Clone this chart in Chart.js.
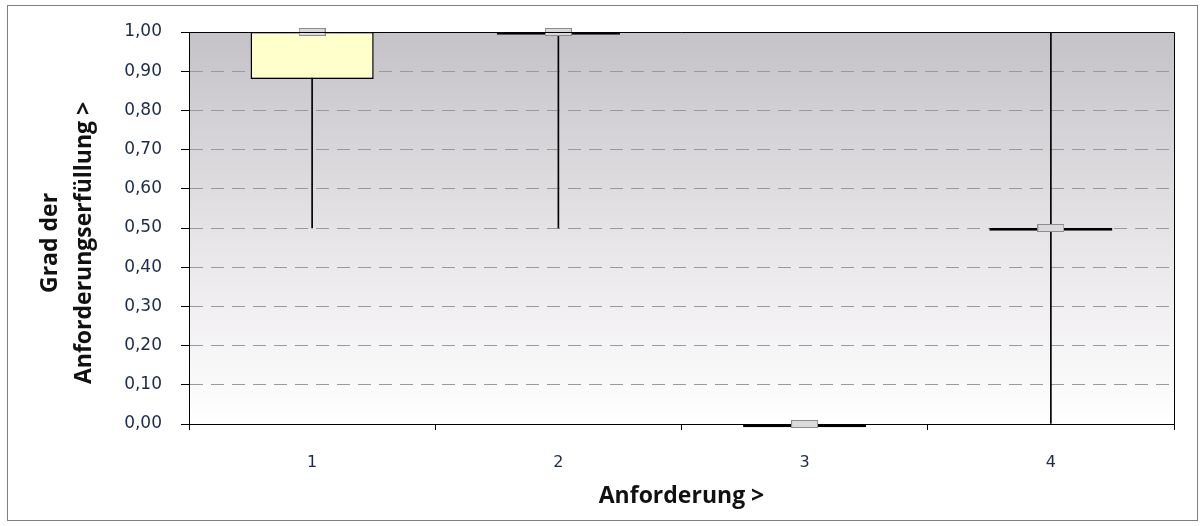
<!DOCTYPE html>
<html><head><meta charset="utf-8">
<script src="https://cdn.jsdelivr.net/npm/chart.js@4"></script>
<style>html,body{margin:0;padding:0;background:#fff}#wrap{width:1204px;height:526px}</style>
</head><body><div id="wrap"><canvas id="c" width="1204" height="526"></canvas></div>
<script>
// ---- data ----
const categories = ['1', '2', '3', '4'];
const minValues    = [0.50, 0.50, 0.00, 0.00];
const q1Values     = [0.88, 0.993, -0.008, 0.493];
const medianValues = [1.00, 1.00, 0.00, 0.50];
const q3Values     = [1.00, 1.00, 0.00, 0.50];
const maxValues    = [1.00, 1.00, 0.00, 1.00];
const yTickValues  = [0, 0.1, 0.2, 0.3, 0.4, 0.5, 0.6, 0.7, 0.8, 0.9, 1.0];
const xTitle = 'Anforderung >';
const yTitle = ['Grad der', 'Anforderungserfüllung >'];

// ---- styles ----
const PLOT_LEFT = 189, PLOT_TOP = 32, PLOT_RIGHT = 1174, PLOT_BOTTOM = 424, W = 1204, H = 526;
const TITLE_SHIFT = '     '; // trailing spaces to move the rotated title slightly downward

// median marker as custom point style
const marker = document.createElement('canvas');
marker.width = 27; marker.height = 8;
(function(){
  const m = marker.getContext('2d');
  m.fillStyle = '#dadada';
  m.fillRect(0, 0, 27, 8);
  m.strokeStyle = '#8c8c8c';
  m.lineWidth = 1;
  m.strokeRect(0.5, 0.5, 26, 7);
})();

const whiskerData = categories.map((c, i) => [minValues[i], maxValues[i]]);
const boxData = categories.map((c, i) => [q1Values[i], q3Values[i]]);

const decor = {
  id: 'decor',
  beforeDraw(chart) {
    const {ctx, chartArea: a} = chart;
    ctx.save();
    ctx.fillStyle = '#fff';
    ctx.fillRect(0, 0, W, H);
    ctx.strokeStyle = '#7f7f7f';
    ctx.lineWidth = 1;
    ctx.strokeRect(7.5, 5.5, 1190, 515);
    const g = ctx.createLinearGradient(0, a.top, 0, a.bottom);
    g.addColorStop(0, '#c5c2c7');
    g.addColorStop(0.55, '#e9e6ea');
    g.addColorStop(1, '#ffffff');
    ctx.fillStyle = g;
    ctx.fillRect(a.left, a.top, a.right - a.left, a.bottom - a.top);
    ctx.restore();
  },
  afterDraw(chart) {
    const {ctx, chartArea: a} = chart;
    ctx.save();
    ctx.strokeStyle = '#000';
    ctx.lineWidth = 1;
    ctx.beginPath();
    ctx.moveTo(a.left, Math.round(a.top) + 0.5);
    ctx.lineTo(Math.round(a.right) + 0.5, Math.round(a.top) + 0.5);
    ctx.lineTo(Math.round(a.right) + 0.5, a.bottom);
    ctx.stroke();
    ctx.restore();
  }
};

new Chart(document.getElementById('c'), {
  data: {
    labels: categories,
    datasets: [
      {
        type: 'bar', label: 'Whisker', data: whiskerData, order: 3,
        backgroundColor: '#000', borderWidth: 0, barThickness: 1, grouped: false
      },
      {
        type: 'bar', label: 'Box', data: boxData, order: 2,
        backgroundColor: '#ffffcc', borderColor: '#000', borderWidth: 1.5,
        borderSkipped: false, barPercentage: 0.5, categoryPercentage: 1.0, grouped: false, clip: false
      },
      {
        type: 'line', label: 'Median', data: medianValues, order: 1,
        showLine: false, pointStyle: marker, pointRadius: 8, clip: false
      }
    ]
  },
  options: {
    responsive: false, animation: false, devicePixelRatio: 1,
    layout: { padding: { top: PLOT_TOP, right: W - PLOT_RIGHT, left: 0, bottom: 0 } },
    plugins: { legend: { display: false }, tooltip: { enabled: false } },
    scales: {
      x: {
        type: 'category', offset: true,
        grid: { offset: true, drawOnChartArea: false, tickColor: '#000', tickLength: 6, tickWidth: 1 },
        border: { color: '#000', width: 1 },
        ticks: { font: { family: 'DejaVu Sans', size: 16 }, color: '#1c2a4a', padding: 23 },
        title: { display: true, text: xTitle, color: '#111',
                 font: { family: 'Open Sans', weight: 'bold', size: 23 }, padding: { top: 0, bottom: 16 } },
        afterFit(s) { s.height = H - PLOT_BOTTOM; }
      },
      y: {
        min: 0, max: 1,
        afterBuildTicks(s) { s.ticks = yTickValues.map(v => ({ value: v })); },
        ticks: { font: { family: 'DejaVu Sans', size: 17 }, color: '#1c2a4a', padding: 19,
                 callback: v => Number(v).toFixed(2).replace('.', ',') },
        grid: {
          color: c => (c.tick && (c.tick.value === 0 || c.tick.value === 1)) ? 'rgba(0,0,0,0)' : '#9a9a9a',
          lineWidth: 1, tickColor: '#000', tickLength: 8, tickWidth: 1, tickBorderDash: []
        },
        border: { color: '#000', width: 1, dash: [13, 8] },
        title: { display: true, text: yTitle.map(t => t + TITLE_SHIFT), color: '#111',
                 font: { family: 'Open Sans', weight: 'bold', size: 23, lineHeight: 1.45 }, padding: { top: 34 } },
        afterFit(s) { s.width = PLOT_LEFT; }
      }
    }
  },
  plugins: [decor]
});
</script>
</body></html>
